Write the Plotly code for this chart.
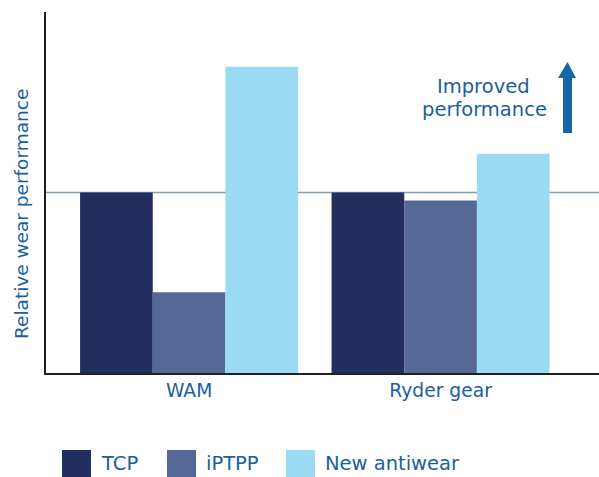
import plotly.graph_objects as go

categories = ["WAM", "Ryder gear"]
series_names = ["TCP", "iPTPP", "New antiwear"]
tcp = [1.0, 1.0]
iptpp = [0.448, 0.956]
new_antiwear = [1.696, 1.215]
reference_level = 1.0
colors = ["#222e60", "#566895", "#9adbf3"]
text_color = "#1b5e9e"
FONT = "DejaVu Sans"

W, H = 599, 477
L, R, T, B = 46, 0, 12, 104
pw, ph = W - L - R, H - T - B

def px(x):
    return (x - L) / pw

def py(y):
    return (H - B - y) / ph

fig = go.Figure()
for name, vals, col in zip(series_names, [tcp, iptpp, new_antiwear], colors):
    fig.add_trace(go.Bar(x=categories, y=vals, name=name, marker_color=col,
                         marker_line_width=0, showlegend=False))

fig.add_shape(type="line", xref="paper", yref="y", x0=0, x1=1,
              y0=reference_level, y1=reference_level,
              line=dict(color="#7f9fb5", width=1.5), layer="below")

# Arrow
arrow_path = "M {a},{b} L {c},{b} L {c},{d} L {e},{d} L {f},{g} L {h},{d} L {i},{d} Z".format(
    a=px(563), b=py(133), c=px(572), d=py(78), e=px(576), f=px(567.5), g=py(62),
    h=px(558), i=px(563))
fig.add_shape(type="path", xref="paper", yref="paper", path=arrow_path,
              fillcolor="#1565a7", line=dict(width=0))
fig.add_annotation(xref="paper", yref="paper", x=px(483), y=py(86),
                   text="Improved", showarrow=False,
                   font=dict(size=19.5, color=text_color, family=FONT),
                   xanchor="center", yanchor="middle")
fig.add_annotation(xref="paper", yref="paper", x=px(484), y=py(110),
                   text="performance", showarrow=False,
                   font=dict(size=19.5, color=text_color, family=FONT),
                   xanchor="center", yanchor="middle")

# Y title
fig.add_annotation(xref="paper", yref="paper", x=px(21), y=py(214),
                   text="Relative wear performance", textangle=-90, showarrow=False,
                   font=dict(size=18.5, color=text_color, family=FONT),
                   xanchor="center", yanchor="middle")

# Legend
leg_x = [62, 167, 286]
for name, col, lx in zip(series_names, colors, leg_x):
    fig.add_shape(type="rect", xref="paper", yref="paper",
                  x0=px(lx), x1=px(lx + 29), y0=py(477), y1=py(450),
                  fillcolor=col, line=dict(width=0))
    fig.add_annotation(xref="paper", yref="paper", x=px(lx + 37), y=py(463),
                       text=name, showarrow=False, xanchor="left", yanchor="middle",
                       font=dict(size=19.5, color=text_color, family=FONT))

fig.update_layout(
    width=W, height=H, margin=dict(l=L, r=R, t=T, b=B, pad=0),
    barmode="group", bargap=0.133, bargroupgap=0,
    plot_bgcolor="white", paper_bgcolor="white",
    font=dict(family=FONT, color=text_color),
    hovermode=False,
    xaxis=dict(range=[-0.569, 1.630], showline=True, linecolor="#231f20", linewidth=2,
               ticks="", tickfont=dict(size=18.7, color=text_color, family=FONT),
               showgrid=False),
    yaxis=dict(range=[0, 2.0], showline=True, linecolor="#231f20", linewidth=2,
               showticklabels=False, ticks="", showgrid=False, zeroline=False),
)

fig.write_html("out.html", config={"displayModeBar": False},
               post_script="document.body.style.margin='0';document.body.style.overflow='hidden';")
